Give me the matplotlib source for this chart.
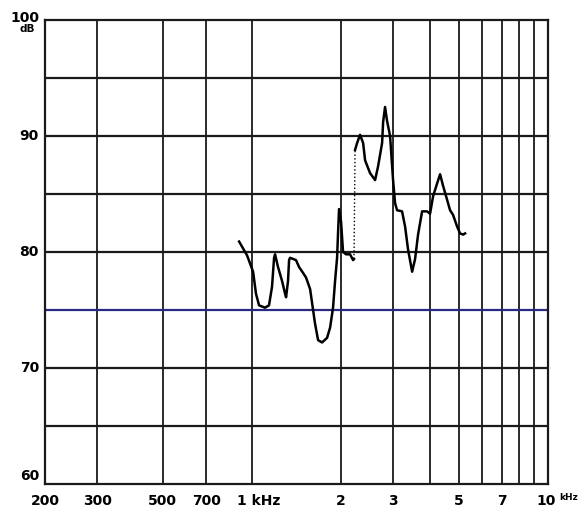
"""
Frequency response chart - scanned style log-frequency plot
"""

import matplotlib
matplotlib.use('Agg')
import matplotlib.pyplot as plt

# Measured trace, first part (Hz, dB)
freq_low = [905, 963, 1009, 1032, 1057, 1107, 1142, 1169, 1188, 1197,
            1225, 1264, 1294, 1304, 1324, 1335, 1345, 1409, 1443, 1488,
            1523, 1572, 1609, 1634, 1673, 1725, 1794, 1837, 1879, 1909,
            1939, 1954, 1969, 2000, 2031, 2078, 2144, 2196, 2212]
db_low = [80.9, 79.7, 78.3, 76.4, 75.4, 75.2, 75.4, 77.0, 79.5, 79.8,
          78.7, 77.5, 76.4, 76.1, 77.5, 79.3, 79.5, 79.3, 78.7, 78.2,
          77.8, 76.8, 75.0, 73.8, 72.4, 72.2, 72.6, 73.5, 75.2, 77.5,
          79.5, 81.7, 83.7, 82.6, 80.0, 79.8, 79.8, 79.3, 79.4]

# Measured trace, second part after the pen jump (Hz, dB)
freq_high = [2230, 2266, 2318, 2374, 2411, 2506, 2606, 2668, 2752, 2774,
             2816, 2860, 2928, 2997, 3044, 3092, 3214, 3290, 3368, 3476,
             3557, 3640, 3756, 3904, 3996, 4091, 4220, 4320, 4422, 4562,
             4668, 4778, 4930, 5046, 5165, 5247]
db_high = [88.8, 89.4, 90.1, 89.4, 87.9, 86.8, 86.2, 87.4, 89.4, 91.2,
           92.5, 91.3, 90.0, 86.2, 84.2, 83.6, 83.5, 82.2, 80.2, 78.3,
           79.4, 81.5, 83.5, 83.5, 83.3, 84.8, 85.9, 86.7, 85.7, 84.5,
           83.6, 83.2, 82.2, 81.6, 81.5, 81.6]

# Grid of the chart paper
grid_freqs = [300, 500, 700, 1000, 2000, 3000, 4000, 5000, 6000, 7000, 8000, 9000]
grid_dbs = [65, 70, 75, 80, 85, 90, 95]

# Axis labels printed on the paper
x_label_freqs = [200, 300, 500, 700, 2000, 3000, 5000, 7000]
x_label_texts = ['200', '300', '500', '700', '2', '3', '5', '7']
y_label_dbs = [90, 80, 70]


def draw_chart():
    fig = plt.figure(figsize=(5.82, 5.12), dpi=100)
    ax = fig.add_axes([0.0773, 0.0547, 0.8643, 0.9063])

    ax.set_xscale('log')
    ax.set_xlim(200, 10000)
    ax.set_ylim(60, 100)
    ax.set_xticks([])
    ax.set_yticks([])
    ax.minorticks_off()

    # Paper grid
    for f in grid_freqs:
        ax.axvline(f, color='#1a1a1a', linewidth=1.3, zorder=1)
    for d in grid_dbs:
        col = '#2a2a85' if d == 75 else '#1a1a1a'
        ax.axhline(d, color=col, linewidth=1.6, zorder=1)

    for side in ['left', 'right', 'top', 'bottom']:
        ax.spines[side].set_linewidth(1.6)
        ax.spines[side].set_color('#1a1a1a')

    # The trace
    ax.plot(freq_low, db_low, color='black', linewidth=1.8, zorder=3)
    ax.plot(freq_high, db_high, color='black', linewidth=1.8, zorder=3)
    ax.plot([freq_low[-1], freq_high[0]], [db_low[-1], db_high[0]],
            color='black', linewidth=1.0, linestyle=':', zorder=3)

    # Frequency labels
    xform = ax.get_xaxis_transform()
    for f, t in zip(x_label_freqs, x_label_texts):
        ax.text(f, -0.022, t, transform=xform, ha='center', va='top',
                fontsize=10, fontweight='bold')
    ax.text(890, -0.022, '1 kHz', transform=xform, ha='left', va='top',
            fontsize=10, fontweight='bold')
    ax.text(9850, -0.022, '10', transform=xform, ha='center', va='top',
            fontsize=10, fontweight='bold')
    ax.text(10950, -0.020, 'kHz', transform=xform, ha='left', va='top',
            fontsize=6.5, fontweight='bold')

    # Level labels
    yform = ax.get_yaxis_transform()
    for d in y_label_dbs:
        ax.text(-0.012, d, str(d), transform=yform, ha='right', va='center',
                fontsize=10, fontweight='bold')
    ax.text(-0.012, 60.7, '60', transform=yform, ha='right', va='center',
            fontsize=10, fontweight='bold')
    ax.text(-0.012, 100.2, '100', transform=yform, ha='right', va='center',
            fontsize=10, fontweight='bold')
    ax.text(-0.02, 99.2, 'dB', transform=yform, ha='right', va='center',
            fontsize=7.5, fontweight='bold')

    plt.savefig('out.png', dpi=100)


if __name__ == "__main__":
    draw_chart()
